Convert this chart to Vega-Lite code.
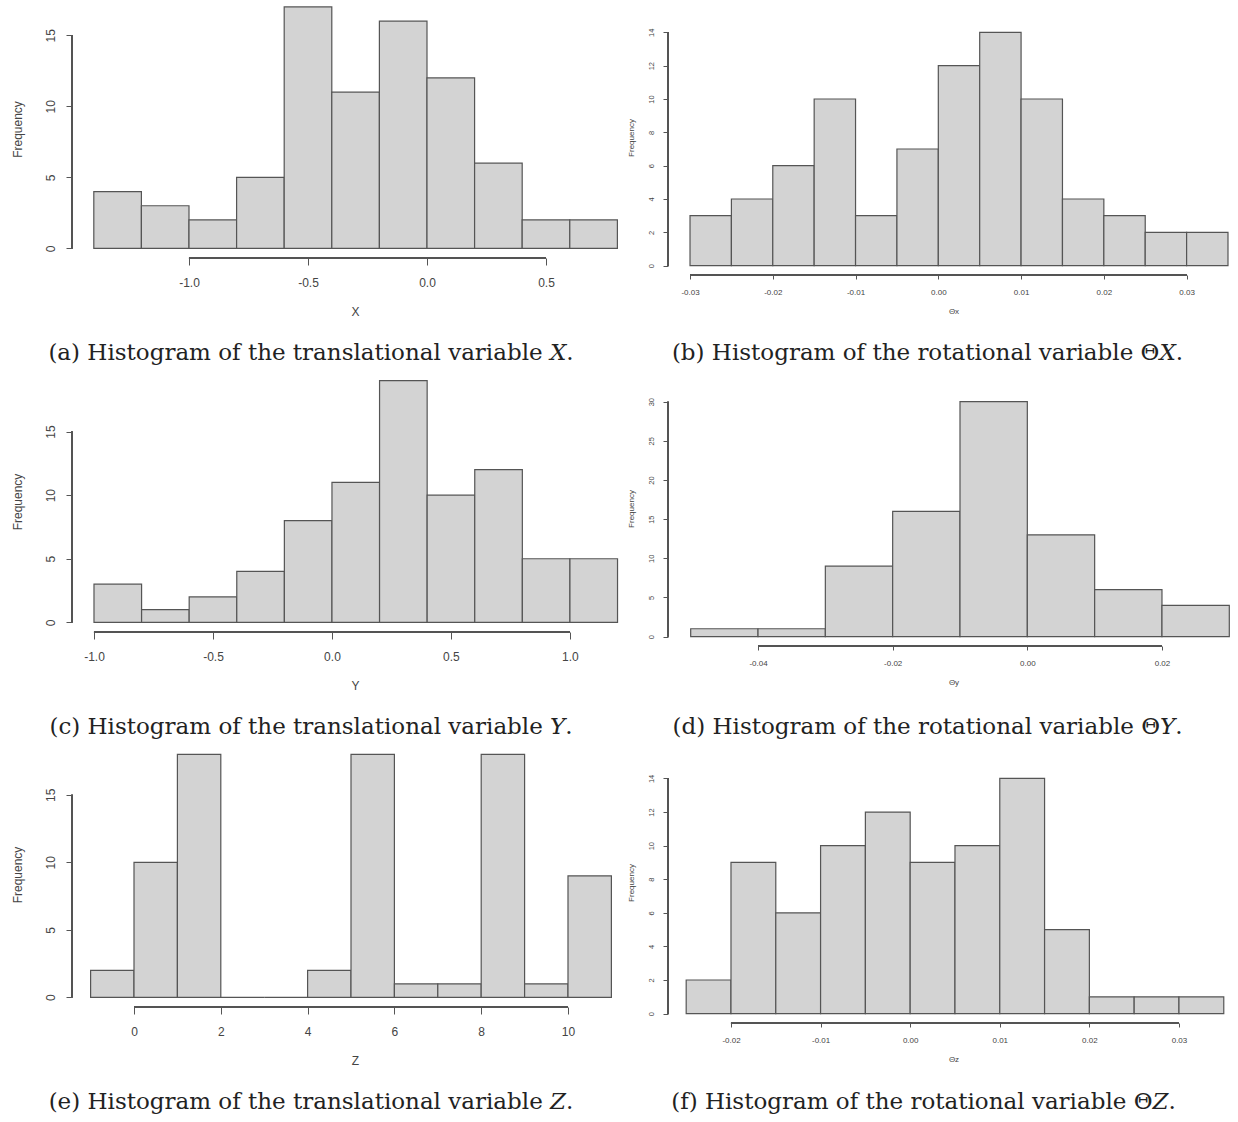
{
  "$schema": "https://vega.github.io/schema/vega-lite/v6.json",
  "background": "white",
  "padding": {"left": 10, "top": 0, "right": 0, "bottom": 0},
  "autosize": {"type": "pad"},
  "bounds": "flush",
  "columns": 2,
  "align": "each",
  "spacing": {"row": 96, "column": 30},
  "config": {
    "view": {"stroke": null},
    "locale": {"number": {"decimal": ".", "thousands": ",", "grouping": [3], "currency": ["$", ""], "minus": "-"}},
    "axis": {"domain": false, "grid": false, "tickColor": "#555", "labelFont": "Liberation Sans", "titleFont": "Liberation Sans", "labelColor": "#444", "titleColor": "#444", "titleFontWeight": "normal", "labelOverlap": false, "labelFlush": false, "labelBound": false},
    "title": {"font": "DejaVu Serif", "fontWeight": "normal", "color": "#222", "fontSize": 23, "orient": "bottom", "anchor": "middle"}
  },
  "datasets": {
    "a": [
      {"x0": -1.4, "x1": -1.2, "count": 4}, {"x0": -1.2, "x1": -1.0, "count": 3}, {"x0": -1.0, "x1": -0.8, "count": 2},
      {"x0": -0.8, "x1": -0.6, "count": 5}, {"x0": -0.6, "x1": -0.4, "count": 17}, {"x0": -0.4, "x1": -0.2, "count": 11},
      {"x0": -0.2, "x1": 0.0, "count": 16}, {"x0": 0.0, "x1": 0.2, "count": 12}, {"x0": 0.2, "x1": 0.4, "count": 6},
      {"x0": 0.4, "x1": 0.6, "count": 2}, {"x0": 0.6, "x1": 0.8, "count": 2}
    ],
    "b": [
      {"x0": -0.03, "x1": -0.025, "count": 3}, {"x0": -0.025, "x1": -0.02, "count": 4}, {"x0": -0.02, "x1": -0.015, "count": 6},
      {"x0": -0.015, "x1": -0.01, "count": 10}, {"x0": -0.01, "x1": -0.005, "count": 3}, {"x0": -0.005, "x1": 0.0, "count": 7},
      {"x0": 0.0, "x1": 0.005, "count": 12}, {"x0": 0.005, "x1": 0.01, "count": 14}, {"x0": 0.01, "x1": 0.015, "count": 10},
      {"x0": 0.015, "x1": 0.02, "count": 4}, {"x0": 0.02, "x1": 0.025, "count": 3}, {"x0": 0.025, "x1": 0.03, "count": 2},
      {"x0": 0.03, "x1": 0.035, "count": 2}
    ],
    "c": [
      {"x0": -1.0, "x1": -0.8, "count": 3}, {"x0": -0.8, "x1": -0.6, "count": 1}, {"x0": -0.6, "x1": -0.4, "count": 2},
      {"x0": -0.4, "x1": -0.2, "count": 4}, {"x0": -0.2, "x1": 0.0, "count": 8}, {"x0": 0.0, "x1": 0.2, "count": 11},
      {"x0": 0.2, "x1": 0.4, "count": 19}, {"x0": 0.4, "x1": 0.6, "count": 10}, {"x0": 0.6, "x1": 0.8, "count": 12},
      {"x0": 0.8, "x1": 1.0, "count": 5}, {"x0": 1.0, "x1": 1.2, "count": 5}
    ],
    "d": [
      {"x0": -0.05, "x1": -0.04, "count": 1}, {"x0": -0.04, "x1": -0.03, "count": 1}, {"x0": -0.03, "x1": -0.02, "count": 9},
      {"x0": -0.02, "x1": -0.01, "count": 16}, {"x0": -0.01, "x1": 0.0, "count": 30}, {"x0": 0.0, "x1": 0.01, "count": 13},
      {"x0": 0.01, "x1": 0.02, "count": 6}, {"x0": 0.02, "x1": 0.03, "count": 4}
    ],
    "e": [
      {"x0": -1, "x1": 0, "count": 2}, {"x0": 0, "x1": 1, "count": 10}, {"x0": 1, "x1": 2, "count": 18},
      {"x0": 2, "x1": 3, "count": 0}, {"x0": 3, "x1": 4, "count": 0}, {"x0": 4, "x1": 5, "count": 2},
      {"x0": 5, "x1": 6, "count": 18}, {"x0": 6, "x1": 7, "count": 1}, {"x0": 7, "x1": 8, "count": 1},
      {"x0": 8, "x1": 9, "count": 18}, {"x0": 9, "x1": 10, "count": 1}, {"x0": 10, "x1": 11, "count": 9}
    ],
    "f": [
      {"x0": -0.025, "x1": -0.02, "count": 2}, {"x0": -0.02, "x1": -0.015, "count": 9}, {"x0": -0.015, "x1": -0.01, "count": 6},
      {"x0": -0.01, "x1": -0.005, "count": 10}, {"x0": -0.005, "x1": 0.0, "count": 12}, {"x0": 0.0, "x1": 0.005, "count": 9},
      {"x0": 0.005, "x1": 0.01, "count": 10}, {"x0": 0.01, "x1": 0.015, "count": 14}, {"x0": 0.015, "x1": 0.02, "count": 5},
      {"x0": 0.02, "x1": 0.025, "count": 1}, {"x0": 0.025, "x1": 0.03, "count": 1}, {"x0": 0.03, "x1": 0.035, "count": 1}
    ]
  },
  "concat": [
    {
      "width": 566, "height": 258,
      "data": {"name": "a"},
      "title": {"text": "(a) Histogram of the translational variable 𝑋.", "dx": -44, "offset": 25},
      "layer": [
        {"mark": {"type": "rect", "fill": "#d3d3d3", "stroke": "#555", "strokeWidth": 1.2},
         "encoding": {
           "x": {"field": "x0", "type": "quantitative", "scale": {"domain": [-1.4916, 0.8866], "nice": false, "zero": false},
                 "axis": {"values": [-1, -0.5, 0, 0.5], "format": ".1f", "tickSize": 7, "labelPadding": 12, "labelFontSize": 12, "labelOverlap": false, "title": "X", "titleFontSize": 12, "titlePadding": 18}},
           "x2": {"field": "x1"},
           "y": {"field": "count", "type": "quantitative", "scale": {"domain": [-0.68, 17.49], "nice": false, "zero": false},
                 "axis": {"values": [0, 5, 10, 15], "tickSize": 6, "labelPadding": 9, "labelFontSize": 12, "labelOverlap": false, "labelAngle": -90, "labelAlign": "center", "labelBaseline": "bottom", "title": "Frequency", "titleFontSize": 12, "titlePadding": 20}},
           "y2": {"datum": 0}
         }},
        {"mark": {"type": "rule", "color": "#555", "strokeWidth": 1}, "encoding": {"x": {"datum": -1.4916}, "y": {"datum": 0}, "y2": {"datum": 15}}},
        {"mark": {"type": "rule", "color": "#555", "strokeWidth": 1}, "encoding": {"y": {"datum": -0.68}, "x": {"datum": -1.0}, "x2": {"datum": 0.5}}}
      ]
    },
    {
      "width": 571, "height": 275,
      "data": {"name": "b"},
      "title": {"text": "(b) Histogram of the rotational variable Θ𝑋.", "dx": -26, "offset": 27},
      "layer": [
        {"mark": {"type": "rect", "fill": "#d3d3d3", "stroke": "#555", "strokeWidth": 1.2},
         "encoding": {
           "x": {"field": "x0", "type": "quantitative", "scale": {"domain": [-0.03266, 0.03633], "nice": false, "zero": false},
                 "axis": {"values": [-0.03, -0.02, -0.01, 0, 0.01, 0.02, 0.03], "format": ".2f", "tickSize": 4, "labelPadding": 9, "labelFontSize": 8, "labelOverlap": false, "title": "Θx", "titleFontSize": 8, "titlePadding": 11}},
           "x2": {"field": "x1"},
           "y": {"field": "count", "type": "quantitative", "scale": {"domain": [-0.56, 15.94], "nice": false, "zero": false},
                 "axis": {"tickCount": 8, "format": "d", "tickSize": 5, "labelPadding": 8, "labelFontSize": 7.5, "labelOverlap": false, "labelSeparation": -30, "labelAngle": -90, "labelAlign": "center", "labelBaseline": "bottom", "title": "Frequency", "titleFontSize": 8, "titlePadding": 12}},
           "y2": {"datum": 0}
         }},
        {"mark": {"type": "rule", "color": "#555", "strokeWidth": 1}, "encoding": {"x": {"datum": -0.03266}, "y": {"datum": 0}, "y2": {"datum": 14}}},
        {"mark": {"type": "rule", "color": "#555", "strokeWidth": 1}, "encoding": {"y": {"datum": -0.56}, "x": {"datum": -0.03}, "x2": {"datum": 0.03}}}
      ]
    },
    {
      "width": 566, "height": 261,
      "data": {"name": "c"},
      "title": {"text": "(c) Histogram of the translational variable 𝑌.", "dx": -44, "offset": 25},
      "layer": [
        {"mark": {"type": "rect", "fill": "#d3d3d3", "stroke": "#555", "strokeWidth": 1.2},
         "encoding": {
           "x": {"field": "x0", "type": "quantitative", "scale": {"domain": [-1.0924, 1.286], "nice": false, "zero": false},
                 "axis": {"values": [-1, -0.5, 0, 0.5, 1], "format": ".1f", "tickSize": 7, "labelPadding": 12, "labelFontSize": 12, "labelOverlap": false, "title": "Y", "titleFontSize": 12, "titlePadding": 18}},
           "x2": {"field": "x1"},
           "y": {"field": "count", "type": "quantitative", "scale": {"domain": [-0.76, 19.76], "nice": false, "zero": false},
                 "axis": {"values": [0, 5, 10, 15], "tickSize": 6, "labelPadding": 9, "labelFontSize": 12, "labelOverlap": false, "labelAngle": -90, "labelAlign": "center", "labelBaseline": "bottom", "title": "Frequency", "titleFontSize": 12, "titlePadding": 20}},
           "y2": {"datum": 0}
         }},
        {"mark": {"type": "rule", "color": "#555", "strokeWidth": 1}, "encoding": {"x": {"datum": -1.0924}, "y": {"datum": 0}, "y2": {"datum": 15}}},
        {"mark": {"type": "rule", "color": "#555", "strokeWidth": 1}, "encoding": {"y": {"datum": -0.76}, "x": {"datum": -1.0}, "x2": {"datum": 1.0}}}
      ]
    },
    {
      "width": 571, "height": 275,
      "data": {"name": "d"},
      "title": {"text": "(d) Histogram of the rotational variable Θ𝑌.", "dx": -26, "offset": 30},
      "layer": [
        {"mark": {"type": "rect", "fill": "#d3d3d3", "stroke": "#555", "strokeWidth": 1.2},
         "encoding": {
           "x": {"field": "x0", "type": "quantitative", "scale": {"domain": [-0.05337, 0.03144], "nice": false, "zero": false},
                 "axis": {"values": [-0.04, -0.02, 0, 0.02], "format": ".2f", "tickSize": 4, "labelPadding": 9, "labelFontSize": 8, "labelOverlap": false, "title": "Θy", "titleFontSize": 8, "titlePadding": 11}},
           "x2": {"field": "x1"},
           "y": {"field": "count", "type": "quantitative", "scale": {"domain": [-1.2, 33.92], "nice": false, "zero": false},
                 "axis": {"values": [0, 5, 10, 15, 20, 25, 30], "format": "d", "tickSize": 5, "labelPadding": 8, "labelFontSize": 7.5, "labelOverlap": false, "labelAngle": -90, "labelAlign": "center", "labelBaseline": "bottom", "title": "Frequency", "titleFontSize": 8, "titlePadding": 12}},
           "y2": {"datum": 0}
         }},
        {"mark": {"type": "rule", "color": "#555", "strokeWidth": 1}, "encoding": {"x": {"datum": -0.05337}, "y": {"datum": 0}, "y2": {"datum": 30}}},
        {"mark": {"type": "rule", "color": "#555", "strokeWidth": 1}, "encoding": {"y": {"datum": -1.2}, "x": {"datum": -0.04}, "x2": {"datum": 0.02}}}
      ]
    },
    {
      "width": 566, "height": 265,
      "data": {"name": "e"},
      "title": {"text": "(e) Histogram of the translational variable 𝑍.", "dx": -44, "offset": 25},
      "layer": [
        {"mark": {"type": "rect", "fill": "#d3d3d3", "stroke": "#555", "strokeWidth": 1.2},
         "encoding": {
           "x": {"field": "x0", "type": "quantitative", "scale": {"domain": [-1.4286, 11.613], "nice": false, "zero": false},
                 "axis": {"values": [0, 2, 4, 6, 8, 10], "format": "d", "tickSize": 7, "labelPadding": 12, "labelFontSize": 12, "labelOverlap": false, "title": "Z", "titleFontSize": 12, "titlePadding": 18}},
           "x2": {"field": "x1"},
           "y": {"field": "count", "type": "quantitative", "scale": {"domain": [-0.72, 18.91], "nice": false, "zero": false},
                 "axis": {"values": [0, 5, 10, 15], "tickSize": 6, "labelPadding": 9, "labelFontSize": 12, "labelOverlap": false, "labelAngle": -90, "labelAlign": "center", "labelBaseline": "bottom", "title": "Frequency", "titleFontSize": 12, "titlePadding": 20}},
           "y2": {"datum": 0}
         }},
        {"mark": {"type": "rule", "color": "#555", "strokeWidth": 1}, "encoding": {"x": {"datum": -1.4286}, "y": {"datum": 0}, "y2": {"datum": 15}}},
        {"mark": {"type": "rule", "color": "#555", "strokeWidth": 1}, "encoding": {"y": {"datum": -0.72}, "x": {"datum": 0}, "x2": {"datum": 10}}}
      ]
    },
    {
      "width": 571, "height": 281,
      "data": {"name": "f"},
      "title": {"text": "(f) Histogram of the rotational variable Θ𝑍.", "dx": -30, "offset": 28},
      "layer": [
        {"mark": {"type": "rect", "fill": "#d3d3d3", "stroke": "#555", "strokeWidth": 1.2},
         "encoding": {
           "x": {"field": "x0", "type": "quantitative", "scale": {"domain": [-0.02703, 0.0367], "nice": false, "zero": false},
                 "axis": {"values": [-0.02, -0.01, 0, 0.01, 0.02, 0.03], "format": ".2f", "tickSize": 4, "labelPadding": 9, "labelFontSize": 8, "labelOverlap": false, "title": "Θz", "titleFontSize": 8, "titlePadding": 11}},
           "x2": {"field": "x1"},
           "y": {"field": "count", "type": "quantitative", "scale": {"domain": [-0.56, 16.17], "nice": false, "zero": false},
                 "axis": {"values": [0, 2, 4, 6, 8, 10, 12, 14], "format": "d", "tickSize": 5, "labelPadding": 8, "labelFontSize": 7.5, "labelOverlap": false, "labelAngle": -90, "labelAlign": "center", "labelBaseline": "bottom", "title": "Frequency", "titleFontSize": 8, "titlePadding": 12}},
           "y2": {"datum": 0}
         }},
        {"mark": {"type": "rule", "color": "#555", "strokeWidth": 1}, "encoding": {"x": {"datum": -0.02703}, "y": {"datum": 0}, "y2": {"datum": 14}}},
        {"mark": {"type": "rule", "color": "#555", "strokeWidth": 1}, "encoding": {"y": {"datum": -0.56}, "x": {"datum": -0.02}, "x2": {"datum": 0.03}}}
      ]
    }
  ]
}
